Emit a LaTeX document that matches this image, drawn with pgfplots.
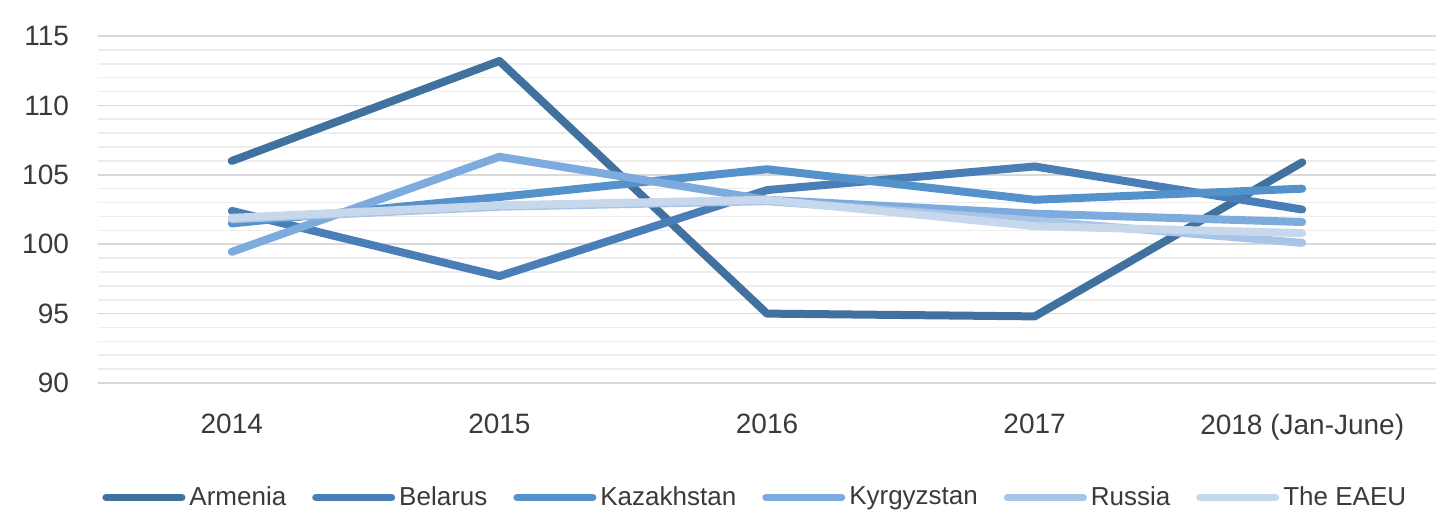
\documentclass[border=0pt]{standalone}
\usepackage{fontspec}
\setmainfont{Liberation Sans}
\usepackage{pgfplots}
\pgfplotsset{compat=1.18}
\definecolor{cArm}{HTML}{41719E}
\definecolor{cBel}{HTML}{4A7EB6}
\definecolor{cKaz}{HTML}{5591CB}
\definecolor{cKyr}{HTML}{7DABDD}
\definecolor{cRus}{HTML}{A8C4E6}
\definecolor{cEAEU}{HTML}{C7D7EC}
\definecolor{txt}{HTML}{3A3A3A}
\begin{document}
\begin{tikzpicture}
\path[use as bounding box] (-49pt,-66.5pt) rectangle (670pt,191.5pt);
\begin{axis}[
  scale only axis,
  width=669pt, height=173.5pt,
  at={(0,0)}, anchor=south west,
  xmin=-0.5, xmax=4.5,
  ymin=90, ymax=115,
  xtick={0,1,2,3,4},
  xticklabels={2014,2015,2016,2017,{2018 (Jan-June)}},
  ytick={90,95,100,105,110,115},
  minor ytick={91,92,93,94,96,97,98,99,101,102,103,104,106,107,108,109,111,112,113,114},
  ymajorgrids, yminorgrids,
  major grid style={draw=black!15, line width=0.8pt},
  minor grid style={draw=black!7, line width=0.8pt},
  axis line style={draw=none},
  major tick length=0pt, minor tick length=0pt,
  tick style={draw=none},
  /pgf/number format/assume math mode=true,
  ticklabel style={font=\fontsize{14}{16}\selectfont, text=txt},
  yticklabel style={xshift=-11pt},
  xticklabel style={yshift=-12pt},
  clip=false,
  legend columns=6,
  legend style={
    at={(0.492,-0.33)}, anchor=center,
    draw=none, fill=none,
    font=\fontsize{13}{15}\selectfont, text=txt,
    /tikz/every even column/.append style={column sep=11pt},
    legend cell align=left,
  },
  legend image code/.code={\draw[#1, line width=3.5pt, line cap=round] (0pt,0pt) -- (38pt,0pt);},
  every axis plot/.append style={line width=4pt, line cap=round, line join=round},
]
\addplot[cArm] coordinates {(0,106.0) (1,113.2) (2,95.0) (3,94.8) (4,105.9)};
\addlegendentry{Armenia}
\addplot[cBel] coordinates {(0,102.4) (1,97.7) (2,103.9) (3,105.6) (4,102.5)};
\addlegendentry{Belarus}
\addplot[cKaz] coordinates {(0,101.5) (1,103.4) (2,105.4) (3,103.2) (4,104.0)};
\addlegendentry{Kazakhstan}
\addplot[cKyr] coordinates {(0,99.45) (1,106.3) (2,103.2) (3,102.2) (4,101.6)};
\addlegendentry{Kyrgyzstan}
\addplot[cRus] coordinates {(0,101.8) (1,102.7) (2,103.1) (3,101.7) (4,100.1)};
\addlegendentry{Russia}
\addplot[cEAEU] coordinates {(0,101.9) (1,102.8) (2,103.2) (3,101.3) (4,100.8)};
\addlegendentry{The EAEU}
\end{axis}
\end{tikzpicture}
\end{document}
